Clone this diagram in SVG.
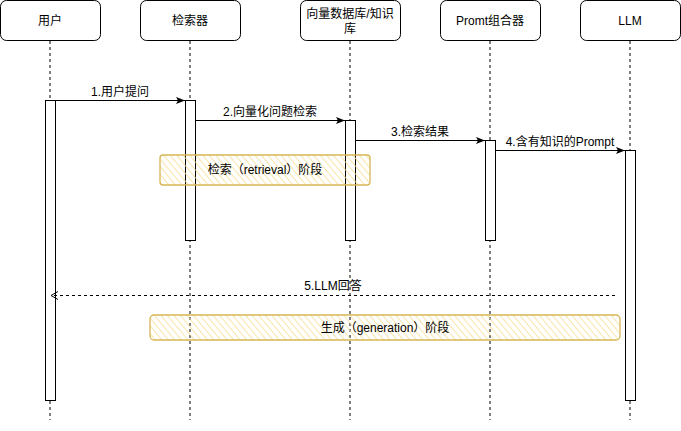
<svg xmlns="http://www.w3.org/2000/svg" width="681" height="431" viewBox="0 0 681 431">
<defs>
<style>
.hdr{fill:#fff;stroke:#000;stroke-width:1}
.life{stroke:#000;stroke-width:1;stroke-dasharray:3 3;fill:none}
.act{fill:#fff;stroke:#000;stroke-width:1}
.msg{stroke:#000;stroke-width:1;fill:none}
.ret{stroke:#000;stroke-width:1;fill:none;stroke-dasharray:3 3}
.t{font-family:"Liberation Sans","Noto Sans CJK SC",sans-serif;font-size:12px;fill:#000;text-anchor:middle}
.note{fill:url(#hatch);stroke:#d6b656;stroke-width:1.3}
</style>
<pattern id="hatch" patternUnits="userSpaceOnUse" width="5" height="5" patternTransform="rotate(-40)">
<line x1="0" y1="0" x2="0" y2="5" stroke="#f5dd90" stroke-width="1.8" stroke-opacity="0.85"/>
</pattern>
<marker id="arr" markerWidth="10" markerHeight="8" refX="9" refY="4" orient="auto" markerUnits="userSpaceOnUse">
<path d="M0,0.5 L9,4 L0,7.5 L2,4 Z" fill="#000"/>
</marker>
<marker id="open" markerWidth="10" markerHeight="10" refX="8" refY="5" orient="auto" markerUnits="userSpaceOnUse">
<path d="M1,1 L8,5 L1,9" fill="none" stroke="#000" stroke-width="1"/>
</marker>
</defs>

<g id="lifelines">
<line class="life" x1="50" y1="41" x2="50" y2="420"/>
<line class="life" x1="190" y1="41" x2="190" y2="420"/>
<line class="life" x1="350" y1="41" x2="350" y2="420"/>
<line class="life" x1="490" y1="41" x2="490" y2="420"/>
<line class="life" x1="630" y1="41" x2="630" y2="420"/>
</g>

<g id="node-user">
<rect class="hdr" x="0.5" y="0.5" width="100" height="40" rx="6"/>
<text class="t" x="50" y="25">用户</text>
</g>
<g id="node-retriever">
<rect class="hdr" x="140.5" y="0.5" width="100" height="40" rx="6"/>
<text class="t" x="190" y="25">检索器</text>
</g>
<g id="node-vectordb">
<rect class="hdr" x="300.5" y="0.5" width="100" height="40" rx="6"/>
<text class="t" x="350" y="18">向量数据库/知识</text>
<text class="t" x="350" y="33">库</text>
</g>
<g id="node-prompt">
<rect class="hdr" x="440.5" y="0.5" width="100" height="40" rx="6"/>
<text class="t" x="490" y="25">Promt组合器</text>
</g>
<g id="node-llm">
<rect class="hdr" x="580.5" y="0.5" width="100" height="40" rx="6"/>
<text class="t" x="630" y="25">LLM</text>
</g>

<g id="activations">
<rect class="act" x="45.5" y="100.5" width="10" height="300"/>
<rect class="act" x="185.5" y="100.5" width="10" height="140"/>
<rect class="act" x="345.5" y="120.5" width="10" height="120"/>
<rect class="act" x="485.5" y="140.5" width="10" height="100"/>
<rect class="act" x="625.5" y="150.5" width="10" height="250"/>
</g>

<g id="connectors">
<line class="msg" x1="56" y1="100.5" x2="185" y2="100.5" marker-end="url(#arr)"/>
<text class="t" x="120" y="96">1.用户提问</text>
<line class="msg" x1="196" y1="120.5" x2="345" y2="120.5" marker-end="url(#arr)"/>
<text class="t" x="270" y="116">2.向量化问题检索</text>
<line class="msg" x1="356" y1="140.5" x2="485" y2="140.5" marker-end="url(#arr)"/>
<text class="t" x="420" y="136">3.检索结果</text>
<line class="msg" x1="496" y1="150.5" x2="625" y2="150.5" marker-end="url(#arr)"/>
<text class="t" x="560" y="146">4.含有知识的Prompt</text>
<line class="ret" x1="615" y1="295.5" x2="51" y2="295.5" marker-end="url(#open)"/>
<text class="t" x="333" y="290">5.LLM回答</text>
</g>

<g id="note-retrieval">
<rect class="note" x="160" y="155" width="210" height="30" rx="3"/>
<text class="t" x="265" y="174">检索（retrieval）阶段</text>
</g>
<g id="note-generation">
<rect class="note" x="150" y="315" width="470" height="25" rx="4"/>
<text class="t" x="385" y="332">生成（generation）阶段</text>
</g>
</svg>
